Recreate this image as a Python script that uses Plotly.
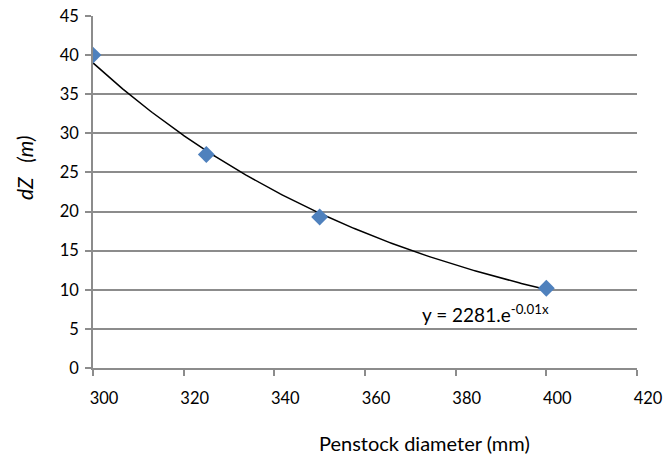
import numpy as np
import plotly.graph_objects as go

# Data
diameter_mm = [300, 325, 350, 400]
dz_m = [40.0, 27.3, 19.3, 10.2]
x_ticks = [300, 320, 340, 360, 380, 400, 420]
y_ticks = [0, 5, 10, 15, 20, 25, 30, 35, 40, 45]
trend_label = "y = 2281.e<sup>-0.01x</sup>"
x_title = "Penstock diameter (mm)"
y_title = "<i>dZ\u00a0\u00a0\u00a0(m)</i>"

# Exponential trendline fitted to the data (least squares on log y)
xa = np.array(diameter_mm, dtype=float)
ya = np.array(dz_m, dtype=float)
b, ln_a = np.polyfit(xa, np.log(ya), 1)
xt = np.linspace(xa.min(), xa.max(), 200)
yt = np.exp(ln_a) * np.exp(b * xt)

font_family = "Lato, 'Open Sans', sans-serif"
grid_col = "#8c8c8c"

fig = go.Figure()
fig.add_trace(go.Scatter(x=xt, y=yt, mode="lines",
                         line=dict(color="black", width=1.5),
                         hoverinfo="skip", showlegend=False))
fig.add_trace(go.Scatter(x=diameter_mm, y=dz_m, mode="markers",
                         marker=dict(symbol="diamond", size=13, color="#4f81bd"),
                         showlegend=False))

fig.add_annotation(x=400, y=10, xref="x", yref="y", text=trend_label,
                   showarrow=False, xanchor="right", yanchor="top",
                   xshift=5, yshift=-9,
                   font=dict(family=font_family, size=19, color="black"))
fig.add_annotation(x=0.61, y=-0.213, xref="paper", yref="paper", text=x_title,
                   showarrow=False, xanchor="center", yanchor="middle",
                   font=dict(family=font_family, size=20, color="black"))
fig.add_annotation(x=-0.127, y=0.568, xref="paper", yref="paper", text=y_title,
                   showarrow=False, xanchor="center", yanchor="middle",
                   textangle=-90,
                   font=dict(family=font_family, size=21, color="black"))

fig.update_layout(
    width=667, height=454,
    margin=dict(l=93, r=30, t=16, b=86),
    paper_bgcolor="white", plot_bgcolor="white",
    font=dict(family=font_family, size=16, color="black"),
)
fig.update_xaxes(
    range=[300, 420], tickvals=x_ticks, ticktext=[str(v) for v in x_ticks],
    showgrid=False, zeroline=False, automargin=False,
    showline=True, linecolor=grid_col, linewidth=1.5,
    ticks="outside", ticklen=6, tickcolor=grid_col, tickwidth=1.5,
    ticklabelstandoff=8, ticklabelshift=11, tickfont=dict(size=16.5),
)
fig.update_yaxes(
    range=[0, 45], tickvals=y_ticks,
    showgrid=True, gridcolor=grid_col, gridwidth=1.5, zeroline=False,
    automargin=False,
    showline=True, linecolor=grid_col, linewidth=1.5,
    ticks="outside", ticklen=6, tickcolor=grid_col, tickwidth=1.5,
    ticklabelstandoff=3, tickfont=dict(size=16.5),
)

# remove the default 8px page margin so the figure fills the window exactly
fig.write_html("out.html", config={"displayModeBar": False},
               post_script="document.body.style.margin='0';document.body.style.overflow='hidden';")
